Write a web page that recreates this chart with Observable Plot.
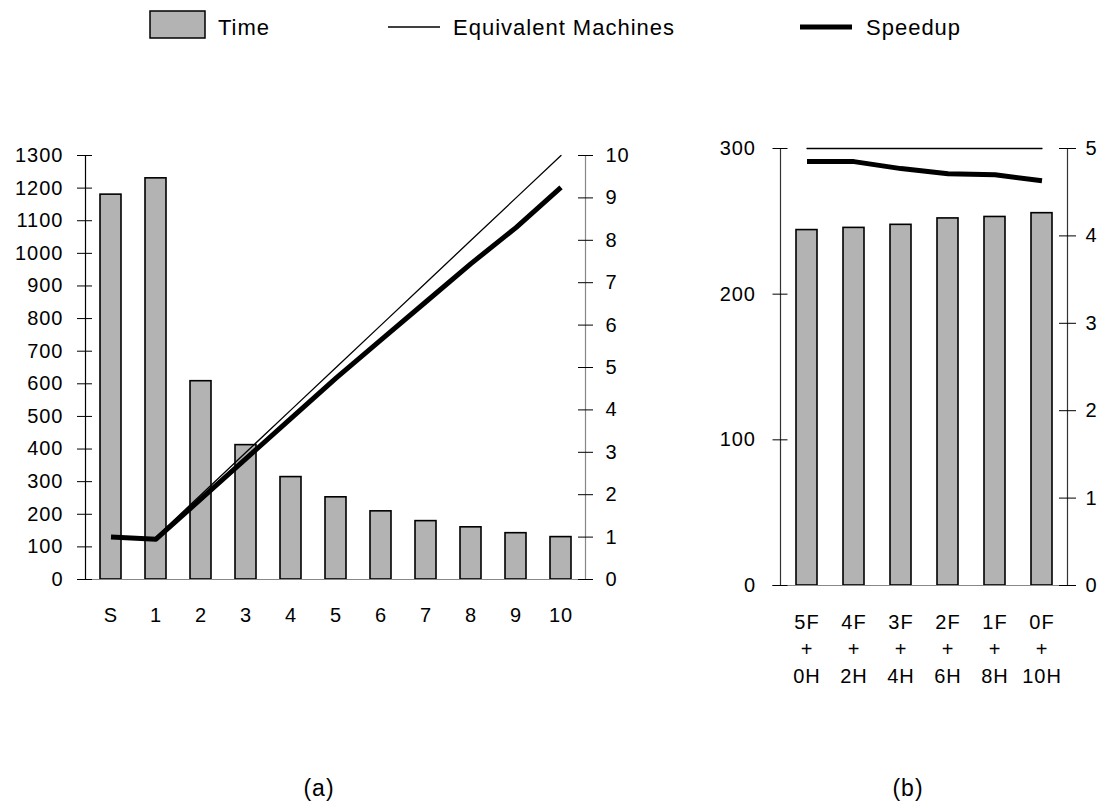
<!DOCTYPE html>
<html>
<head>
<meta charset="utf-8">
<script src="https://cdn.jsdelivr.net/npm/d3@7"></script>
<script src="https://cdn.jsdelivr.net/npm/@observablehq/plot@0.6"></script>
<style>
  body { margin: 0; background: #fff; }
  #wrap { position: relative; width: 1099px; height: 803px; background: #fff; overflow: hidden;
          font-family: "Liberation Sans", Arial, Helvetica, sans-serif; color: #000; }
  .abs { position: absolute; }
  .cap { position: absolute; font-size: 23px; text-align: center; width: 80px; letter-spacing: 1px; }
  svg text { letter-spacing: 1px; }
</style>
</head>
<body>
<div id="wrap"></div>
<script>
// ---- Data: panel (a) ----
const leftCats = ["S", "1", "2", "3", "4", "5", "6", "7", "8", "9", "10"];
const leftTime = [1180, 1230, 608, 412, 314, 252, 209, 179, 160, 142, 130];
const leftMachines = [null, 1, 2, 3, 4, 5, 6, 7, 8, 9, 10];
const leftSpeedup = [1.0, 0.95, 1.9, 2.85, 3.8, 4.75, 5.65, 6.55, 7.45, 8.3, 9.25];
const leftTimeTicks = [0, 100, 200, 300, 400, 500, 600, 700, 800, 900, 1000, 1100, 1200, 1300];
const leftRightTicks = [0, 1, 2, 3, 4, 5, 6, 7, 8, 9, 10];

// ---- Data: panel (b) ----
const rightCats = ["5F\n+\n0H", "4F\n+\n2H", "3F\n+\n4H", "2F\n+\n6H", "1F\n+\n8H", "0F\n+\n10H"];
const rightTime = [244, 245.5, 247.6, 252, 253, 255.6];
const rightMachines = [5, 5, 5, 5, 5, 5];
const rightSpeedup = [4.85, 4.85, 4.77, 4.71, 4.70, 4.63];
const rightTimeTicks = [0, 100, 200, 300];
const rightRightTicks = [0, 1, 2, 3, 4, 5];

const legendItems = ["Time", "Equivalent Machines", "Speedup"];
const captions = ["(a)", "(b)"];

const leftRows = leftCats.map((c, i) => ({cat: c, time: leftTime[i], machines: leftMachines[i], speedup: leftSpeedup[i]}));
const rightRows = rightCats.map((c, i) => ({cat: c, time: rightTime[i], machines: rightMachines[i], speedup: rightSpeedup[i]}));

const FONT = '"Liberation Sans", Arial, Helvetica, sans-serif';
const wrap = document.getElementById("wrap");

function panel({rows, cats, yMax, k, timeTicks, rTicks, width, height, mL, mR, mT, mB, pInner, pOuter, axisColor, rAxisColor, lTick, rTick, leftBaseInset, xPad, lineHeight}) {
  return Plot.plot({
    width, height,
    marginLeft: mL, marginRight: mR, marginTop: mT, marginBottom: mB,
    style: {fontFamily: FONT, fontSize: "20px", color: "#000", background: "transparent", overflow: "visible"},
    x: {type: "band", domain: cats, paddingInner: pInner, paddingOuter: pOuter, align: 0.5},
    y: {domain: [0, yMax]},
    marks: [
      Plot.barY(rows, {x: "cat", y: "time", fill: "#b3b3b3", stroke: "#000", strokeWidth: 1.6}),
      Plot.ruleY([0], {stroke: "#888", strokeWidth: 1.2, insetLeft: leftBaseInset}),
      Plot.line(rows, {x: "cat", y: d => d.machines == null ? NaN : d.machines * k, stroke: "#000", strokeWidth: 1.3}),
      Plot.line(rows, {x: "cat", y: d => d.speedup * k, stroke: "#000", strokeWidth: 5, strokeLinecap: "butt", strokeLinejoin: "round"}),
      // axis lines
      Plot.frame({anchor: "left", stroke: axisColor, strokeWidth: 1.2}),
      Plot.frame({anchor: "right", stroke: rAxisColor, strokeWidth: 1.2}),
      // left ticks (crossing the axis line)
      Plot.axisY({anchor: "left", ticks: timeTicks, tickFormat: d => String(d), tickSize: lTick.size, dx: lTick.dx, tickPadding: lTick.pad, stroke: "#000", label: null}),
      // right ticks (speedup / machines scale)
      Plot.axisY({anchor: "right", ticks: rTicks.map(t => t * k), tickFormat: d => String(Math.round(d / k)), tickSize: rTick.size, dx: rTick.dx, tickPadding: rTick.pad, stroke: "#000", label: null}),
      Plot.axisX({tickSize: 0, tickPadding: xPad, label: null, lineHeight})
    ]
  });
}

const leftPlot = panel({
  rows: leftRows, cats: leftCats, yMax: 1300, k: 130, timeTicks: leftTimeTicks, rTicks: leftRightTicks,
  width: 650, height: 640, mL: 85, mR: 65, mT: 155, mB: 61, pInner: 0.54, pOuter: 0.27,
  axisColor: "#000", rAxisColor: "#888",
  lTick: {size: 15, dx: 7, pad: 14}, rTick: {size: 15, dx: -8, pad: 13},
  leftBaseInset: -8, xPad: 23, lineHeight: 1.35
});
leftPlot.classList.add("abs");
leftPlot.style.left = "0px"; leftPlot.style.top = "0px";
wrap.appendChild(leftPlot);

const rightPlot = panel({
  rows: rightRows, cats: rightCats, yMax: 300, k: 60, timeTicks: rightTimeTicks, rTicks: rightRightTicks,
  width: 449, height: 645, mL: 130, mR: 32, mT: 148, mB: 60, pInner: 0.56, pOuter: 0.28,
  axisColor: "#333", rAxisColor: "#333",
  lTick: {size: 15, dx: 7.5, pad: 17}, rTick: {size: 17, dx: -9, pad: 10},
  leftBaseInset: -8, xPad: 24, lineHeight: 1.35
});
rightPlot.classList.add("abs");
rightPlot.style.left = "650px"; rightPlot.style.top = "0px";
wrap.appendChild(rightPlot);

// ---- Legend ----
const ns = "http://www.w3.org/2000/svg";
const leg = document.createElementNS(ns, "svg");
leg.setAttribute("width", 1099); leg.setAttribute("height", 50);
leg.setAttribute("class", "abs");
leg.style.left = "0px"; leg.style.top = "0px";
function el(tag, attrs, text) {
  const e = document.createElementNS(ns, tag);
  for (const [a, v] of Object.entries(attrs)) e.setAttribute(a, v);
  if (text != null) e.textContent = text;
  leg.appendChild(e);
  return e;
}
el("rect", {x: 150, y: 11, width: 55, height: 27, fill: "#b3b3b3", stroke: "#000", "stroke-width": 1.5});
el("text", {x: 218, y: 35, "font-size": 22, "font-family": FONT}, legendItems[0]);
el("line", {x1: 388, x2: 440, y1: 27, y2: 27, stroke: "#000", "stroke-width": 1.5});
el("text", {x: 453, y: 35, "font-size": 22, "font-family": FONT}, legendItems[1]);
el("line", {x1: 800, x2: 852, y1: 27, y2: 27, stroke: "#000", "stroke-width": 5});
el("text", {x: 866, y: 35, "font-size": 22, "font-family": FONT}, legendItems[2]);
wrap.appendChild(leg);

// ---- Captions ----
[[captions[0], 319], [captions[1], 908]].forEach(([t, cx]) => {
  const d = document.createElement("div");
  d.className = "cap";
  d.style.left = (cx - 40) + "px";
  d.style.top = "775px";
  d.textContent = t;
  wrap.appendChild(d);
});
</script>
</body>
</html>
